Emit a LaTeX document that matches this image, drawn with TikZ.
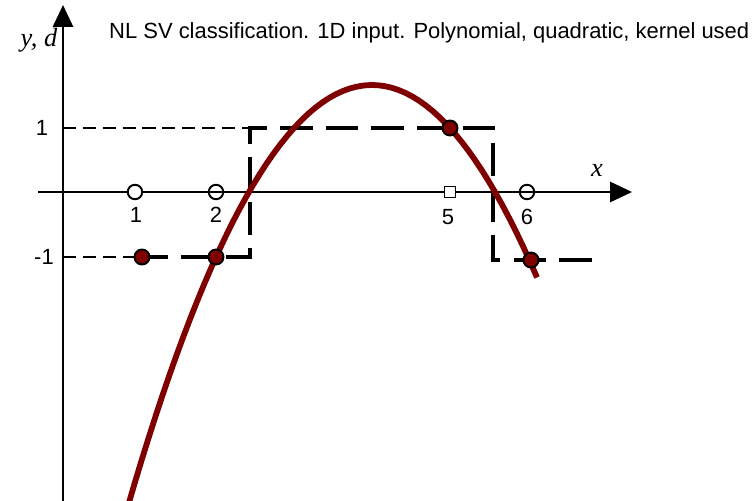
\documentclass[tikz,border=0pt]{standalone}
\usepackage{fontspec}
\setmainfont{Liberation Sans}
\newfontfamily\labelfont{Liberation Serif}
\usetikzlibrary{arrows.meta}
\definecolor{maroon}{HTML}{7F0000}

\begin{document}
\begin{tikzpicture}[
  x=0.02cm,y=-0.02cm,
  >={Triangle[width=11.5pt,length=12.5pt]},
  axis/.style={line width=1.3pt,black},
  guide/.style={line width=0.9pt,dash pattern=on 7.5pt off 3.8pt},
  target/.style={line width=2.6pt,dash pattern=on 18.5pt off 7.5pt},
  decision/.style={line width=3.3pt,maroon},
  sample/.style={circle,draw,line width=1.1pt,fill=white,inner sep=0pt,minimum size=0.29cm},
  sv/.style={circle,draw,line width=1.1pt,fill=maroon,inner sep=0pt,minimum size=0.3cm},
  note/.style={font=\fontsize{12.5}{15}\selectfont},
  axlabel/.style={font=\fontsize{15}{17}\selectfont\labelfont\itshape}
]
  \useasboundingbox (0,0) rectangle (755,501);

  % Axes.
  \coordinate (Yb) at (63,501);
  \coordinate (Yt) at (63,5);
  \coordinate (Xl) at (38,192);
  \coordinate (Xr) at (632,192);
  \draw[axis,->] (Yb) -- (Yt);
  \draw[axis,->] (Xl) -- (Xr);
  \node[axlabel] (ylab) at (39,40) {y, d};
  \node[axlabel] (xlab) at (597,170) {x};
  \node[note,anchor=west] (title) at (103,33)
    {NL SV classification. 1D input. Polynomial, quadratic, kernel used};

  % Levels +1 and -1.
  \node[note] (one) at (42,128) {1};
  \node[note] (mone) at (44,257) {-1};
  \coordinate (P1) at (63,128);
  \coordinate (M1) at (63,257);
  \coordinate (A) at (135,257);
  \coordinate (B) at (250,257);
  \coordinate (C) at (250,128);
  \coordinate (D) at (493,128);
  \coordinate (E) at (493,260);
  \coordinate (F) at (593,260);
  \draw[guide] (P1) -- (C);
  \draw[guide] (M1) -- (A);

  % Desired output d: step function.
  \draw[target] (A) -- (B) -- (C) -- (D) -- (E) -- (F);

  % Decision function of the machine.
  \draw[decision] plot[domain=128:537,samples=60] (\x,{0.707*((\x-372)/10)^2+85});

  % Training inputs on the x axis.
  \node[sample] (x1) at (135,192) {};
  \node[sample] (x2) at (216,192) {};
  \draw[line width=1.1pt] (x2.west) -- (x2.east);
  \node[draw,line width=1.1pt,fill=white,inner sep=0pt,minimum size=0.22cm] (x5) at (450,192) {};
  \node[sample] (x6) at (527,192) {};
  \draw[line width=1.1pt] (x6.west) -- (x6.east);
  \node[note] (n1) at (136,215) {1};
  \node[note] (n2) at (216,215) {2};
  \node[note] (n5) at (448,217) {5};
  \node[note] (n6) at (527,217) {6};

  % Support vectors on the output.
  \node[sv] (s1) at (142,257) {};
  \node[sv] (s2) at (216,257) {};
  \node[sv] (s5) at (450,128) {};
  \node[sv] (s6) at (531,260) {};
\end{tikzpicture}
\end{document}
